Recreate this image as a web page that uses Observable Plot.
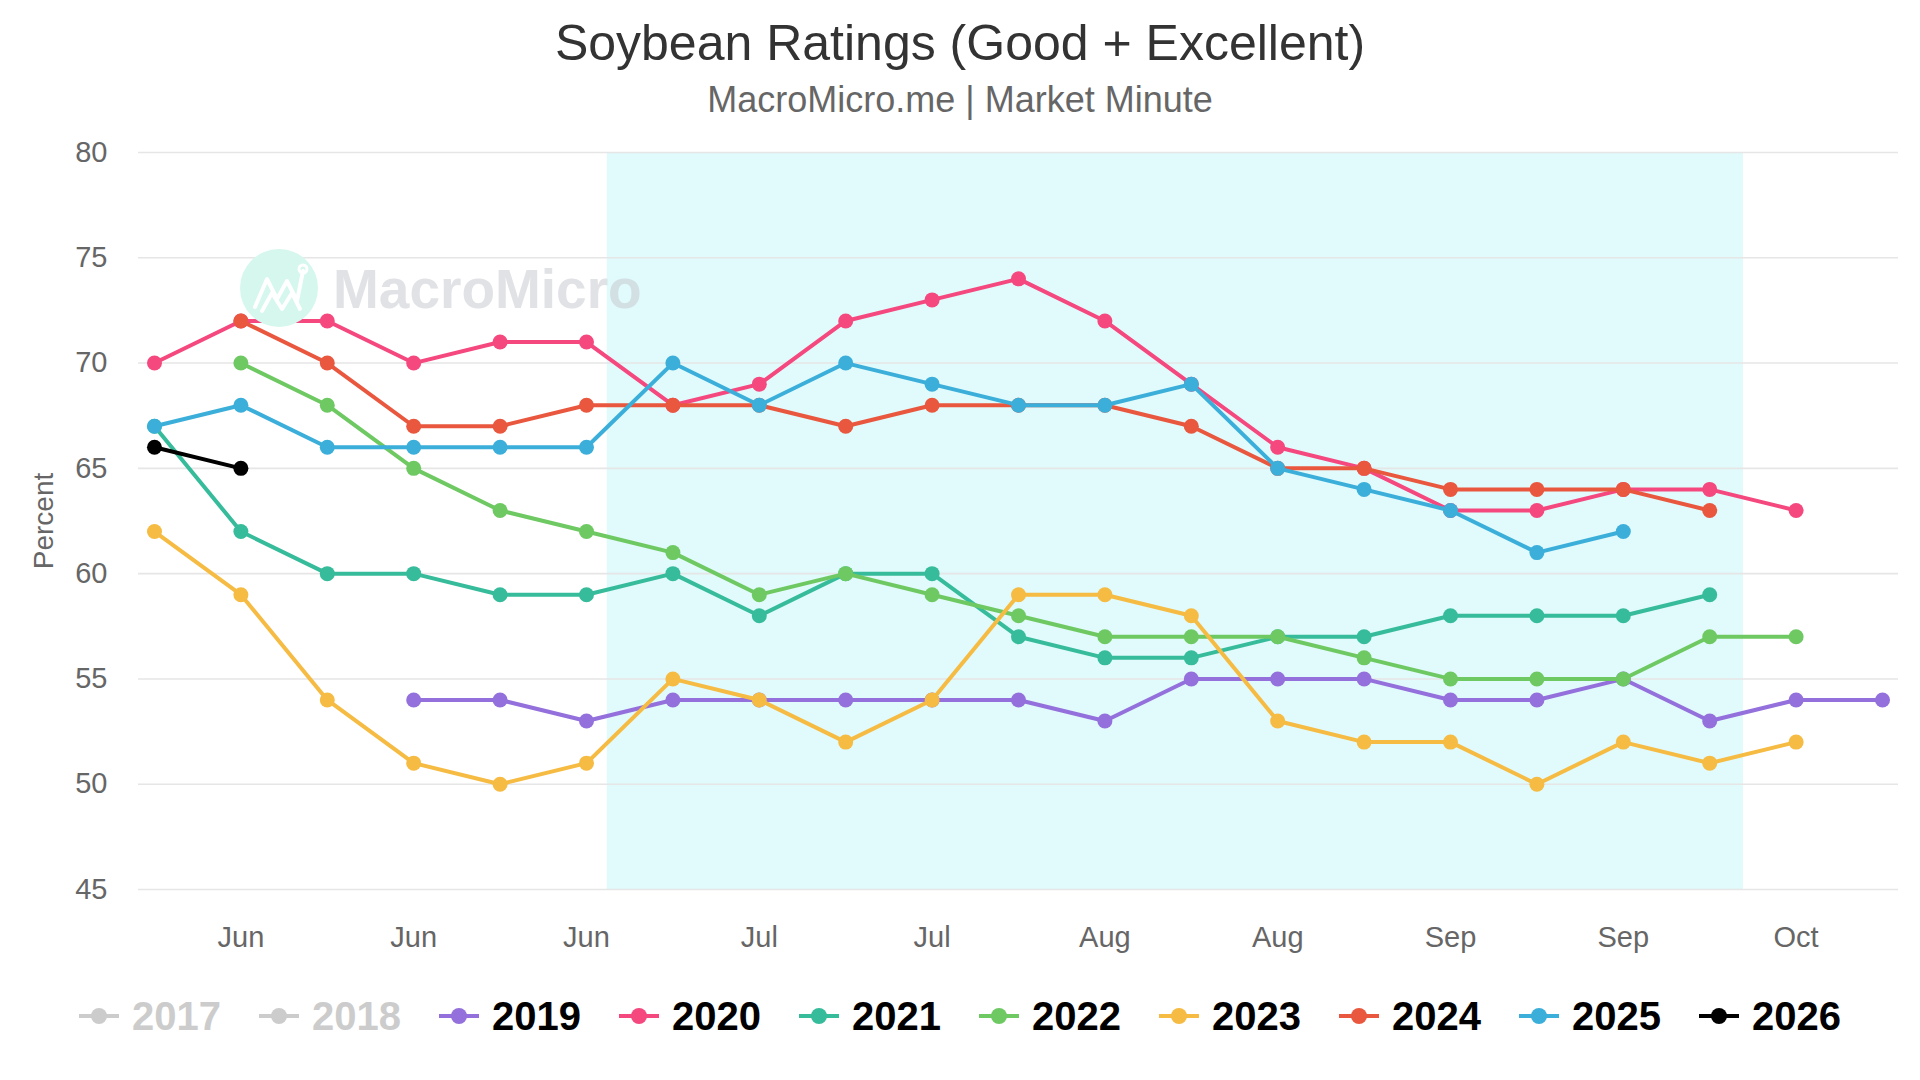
<!DOCTYPE html>
<html>
<head>
<meta charset="utf-8">
<script src="https://cdn.jsdelivr.net/npm/d3@7"></script>
<script src="https://cdn.jsdelivr.net/npm/@observablehq/plot@0.6"></script>
<style>
  html, body { margin: 0; padding: 0; background: #fff; }
  body { width: 1920px; height: 1080px; overflow: hidden; position: relative;
         font-family: "Liberation Sans", Arial, Helvetica, sans-serif; }
  #title { margin-top: 17px; height: 52px; line-height: 52px; text-align: center;
           font-size: 50px; color: #333; }
  #subtitle { margin-top: 11px; height: 40px; line-height: 40px; text-align: center;
              font-size: 36px; color: #666; }
  #chart svg { display: block; }
  #legend { height: 62px; display: flex; justify-content: center; align-items: center; gap: 38px; }
  .item { display: flex; align-items: center; gap: 13px; font-size: 40px; font-weight: 700; line-height: 1; }
  .item svg { display: block; }
  #wm-circle { position: absolute; left: 240px; top: 249px; width: 78px; height: 78px;
               border-radius: 50%; background: #d5f7ee; pointer-events: none; }
  #wm-text { position: absolute; left: 333px; top: 262px; font-size: 55px; line-height: 55px;
             font-weight: 700; color: rgba(195, 198, 204, 0.5); pointer-events: none; white-space: nowrap; }
</style>
</head>
<body>
<div id="title">Soybean Ratings (Good + Excellent)</div>
<div id="subtitle">MacroMicro.me | Market Minute</div>
<div id="chart"></div>
<div id="legend"></div>
<div id="wm-circle"><svg width="78" height="78" viewBox="0 0 78 78"><polyline points="15,58 27,30 37,50 47,32 57,52 63,22" fill="none" stroke="#fff" stroke-width="4" stroke-linejoin="round" stroke-linecap="round"/><polyline points="22,62 32,44 42,60 52,44 60,60" fill="none" stroke="#fff" stroke-width="4" stroke-linejoin="round" stroke-linecap="round"/><circle cx="63" cy="20" r="4" fill="none" stroke="#fff" stroke-width="3"/></svg></div>
<div id="wm-text">MacroMicro</div>
<script>
// ---- data ----
const weeks = [0,1,2,3,4,5,6,7,8,9,10,11,12,13,14,15,16,17,18,19,20];
const tickIdx = [1,3,5,7,9,11,13,15,17,19];
const tickLabels = ["Jun","Jun","Jun","Jul","Jul","Aug","Aug","Sep","Sep","Oct"];
const yTicks = [45,50,55,60,65,70,75,80];
const yDomain = [45, 80];
const xDomain = [-0.185, 20.185];
const band = [{start: 5.24, end: 18.39}];

const years = ["2017","2018","2019","2020","2021","2022","2023","2024","2025","2026"];
const hidden = ["2017","2018"];
const colors = ["#cccccc","#cccccc","#9370db","#f4487f","#37bc9b","#6fc963","#f6bb42","#e9573f","#3bafda","#000000"];

const s2017 = [];
const s2018 = [];
const s2019 = [null,null,null,54,54,53,54,54,54,54,54,53,55,55,55,54,54,55,53,54,54];
const s2020 = [70,72,72,70,71,71,68,69,72,73,74,72,69,66,65,63,63,64,64,63,null];
const s2021 = [67,62,60,60,59,59,60,58,60,60,57,56,56,57,57,58,58,58,59,null,null];
const s2022 = [null,70,68,65,63,62,61,59,60,59,58,57,57,57,56,55,55,55,57,57,null];
const s2023 = [62,59,54,51,50,51,55,54,52,54,59,59,58,53,52,52,50,52,51,52,null];
const s2024 = [null,72,70,67,67,68,68,68,67,68,68,68,67,65,65,64,64,64,63,null,null];
const s2025 = [67,68,66,66,66,66,70,68,70,69,68,68,69,65,64,63,61,62,null,null,null];
const s2026 = [66,65,null,null,null,null,null,null,null,null,null,null,null,null,null,null,null,null,null,null,null];
const seriesValues = [s2017,s2018,s2019,s2020,s2021,s2022,s2023,s2024,s2025,s2026];

// ---- chart ----
const W = 1920, H = 865;
const marks = [
  Plot.rect(band, {x1: "start", x2: "end", y1: () => yDomain[0], y2: () => yDomain[1], fill: "#e1fafb"}),
  Plot.gridY({ticks: yTicks, stroke: "#e6e6e6", strokeOpacity: 1, strokeWidth: 1.6}),
  Plot.axisY({ticks: yTicks, tickSize: 0, tickPadding: 31, fontSize: 29, label: null}),
  Plot.axisX({ticks: tickIdx, tickFormat: (d) => tickLabels[tickIdx.indexOf(d)], tickSize: 0, tickPadding: 37, fontSize: 29, label: null}),
  Plot.text(["Percent"], {text: (d) => d, frameAnchor: "left", textAnchor: "middle", rotate: -90, dx: -94, fontSize: 28, fill: "#666"})
];
years.forEach((yr, k) => {
  if (hidden.includes(yr)) return;
  const vals = seriesValues[k];
  const pts = weeks.filter((i) => vals[i] != null);
  marks.push(Plot.line(weeks, {x: (i) => i, y: (i) => vals[i], stroke: colors[k], strokeWidth: 4, curve: "linear"}));
  marks.push(Plot.dot(pts, {x: (i) => i, y: (i) => vals[i], r: 7.5, fill: colors[k], stroke: "none"}));
});

const chart = Plot.plot({
  width: W, height: H,
  marginTop: 32, marginBottom: 96, marginLeft: 138, marginRight: 22,
  style: {fontFamily: '"Liberation Sans", Arial, sans-serif', color: "#666", background: "transparent", overflow: "visible"},
  x: {type: "linear", domain: xDomain},
  y: {type: "linear", domain: yDomain},
  marks
});
document.getElementById("chart").appendChild(chart);

// ---- legend ----
const legend = document.getElementById("legend");
years.forEach((yr, k) => {
  const item = document.createElement("div");
  item.className = "item";
  const off = hidden.includes(yr);
  const c = colors[k];
  item.innerHTML = `<svg width="40" height="18" viewBox="0 0 40 18"><line x1="0" y1="9" x2="40" y2="9" stroke="${c}" stroke-width="4" stroke-linecap="round"/><circle cx="20" cy="9" r="8" fill="${c}"/></svg><span style="color:${off ? "#cccccc" : "#000"}">${yr}</span>`;
  legend.appendChild(item);
});
</script>
</body>
</html>
